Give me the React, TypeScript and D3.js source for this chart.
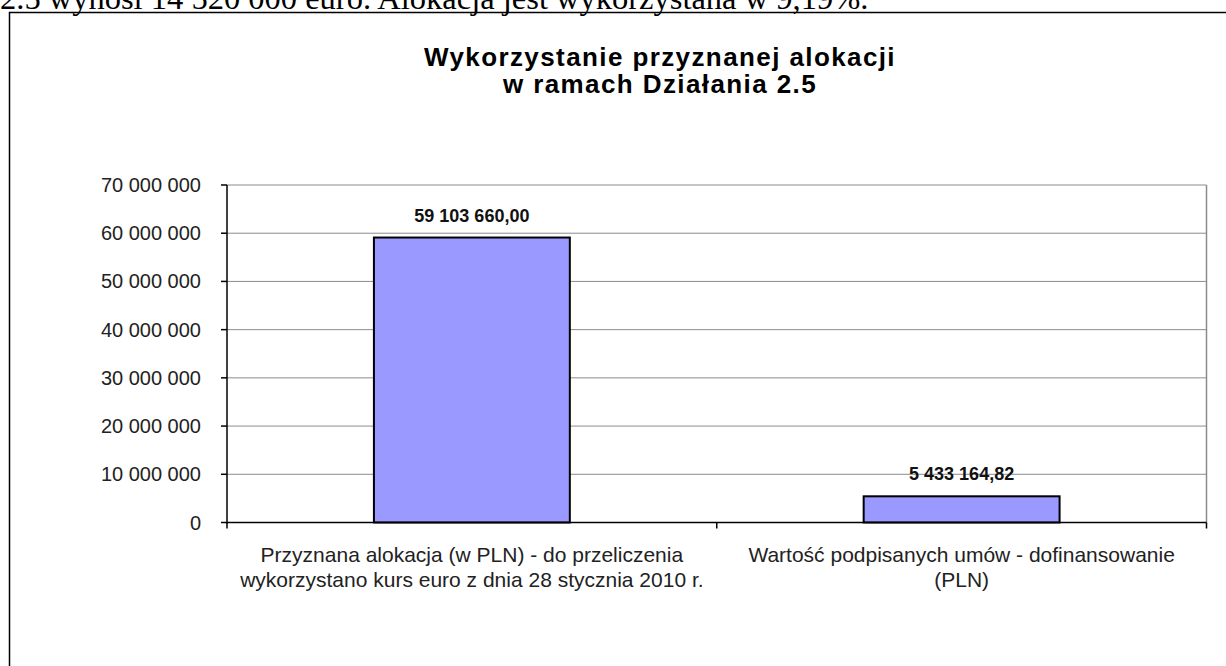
import React from "react";
import * as d3 from "d3";

const categories: string[][] = [
  ["Przyznana alokacja (w PLN) - do przeliczenia", "wykorzystano kurs euro z dnia 28 stycznia 2010 r."],
  ["Wartość podpisanych umów - dofinansowanie", "(PLN)"],
];
const values: number[] = [59103660.0, 5433164.82];
const valueLabels: string[] = ["59 103 660,00", "5 433 164,82"];
const yTicks: number[] = [0, 10000000, 20000000, 30000000, 40000000, 50000000, 60000000, 70000000];
const titleLines: string[] = ["Wykorzystanie przyznanej alokacji", "w ramach Działania 2.5"];
const topText = "2.5 wynosi 14 520 000 euro. Alokacja jest wykorzystana w 9,19%.";

const fmt = (v: number) => {
  const s = String(Math.round(v));
  return s.replace(/\B(?=(\d{3})+(?!\d))/g, "\u00a0");
};

export default function App() {
  const W = 1226, H = 666;
  const left = 227, right = 1206.5, top = 185, bottom = 522.5;
  const x = d3.scaleBand<number>().domain(d3.range(values.length)).range([left, right]).paddingInner(0.6).paddingOuter(0.3);
  const xc = d3.scaleBand<number>().domain(d3.range(values.length)).range([left, right]);
  const y = d3.scaleLinear().domain([0, 70000000]).range([bottom, top]);
  const font = "Arial, 'Liberation Sans', sans-serif";
  return (
    <svg width={W} height={H} style={{ position: "absolute", left: 0, top: 0 }} fontFamily={font}>
      <rect width={W} height={H} fill="#fff" />
      <text x={0} y={9} fontFamily="'Liberation Serif', 'Times New Roman', serif" fontSize={32.5} fill="#000">{topText}</text>
      <rect x={9.5} y={12.5} width={1400} height={800} fill="none" stroke="#000" strokeWidth={1.5} />
      {titleLines.map((t, i) => (
        <text key={i} x={660} y={66 + i * 27} textAnchor="middle" fontWeight="bold" fontSize={26} letterSpacing={1.4} fill="#000">{t}</text>
      ))}
      {yTicks.map((t) => (
        <g key={t}>
          {t > 0 && <line x1={left} x2={right} y1={y(t)} y2={y(t)} stroke="#8c8c8c" strokeWidth={1} />}
          <line x1={left - 6} x2={left} y1={y(t)} y2={y(t)} stroke="#000" strokeWidth={1.5} />
          <text x={201} y={y(t) + 7} textAnchor="end" fontSize={20} fill="#222">{fmt(t)}</text>
        </g>
      ))}
      <line x1={right} x2={right} y1={top} y2={bottom} stroke="#8c8c8c" strokeWidth={1.5} />
      {values.map((v, i) => (
        <g key={i}>
          <rect x={x(i)!} y={y(v)} width={x.bandwidth()} height={bottom - y(v)} fill="#9999ff" stroke="#000" strokeWidth={2} />
          <text x={x(i)! + x.bandwidth() / 2} y={y(v) - 16} textAnchor="middle" fontWeight="bold" fontSize={18} fill="#111">{valueLabels[i]}</text>
          {categories[i].map((l, j) => (
            <text key={j} x={xc(i)! + xc.bandwidth() / 2} y={562 + j * 25} textAnchor="middle" fontSize={21} fill="#222">{l}</text>
          ))}
        </g>
      ))}
      {d3.range(values.length + 1).map((i) => {
        const xx = left + i * xc.bandwidth();
        return <line key={i} x1={xx} x2={xx} y1={bottom} y2={bottom + 6} stroke="#000" strokeWidth={1.5} />;
      })}
      <line x1={left} x2={left} y1={top} y2={bottom + 1} stroke="#000" strokeWidth={1.5} />
      <line x1={left} x2={right} y1={bottom} y2={bottom} stroke="#000" strokeWidth={1.5} />
    </svg>
  );
}
